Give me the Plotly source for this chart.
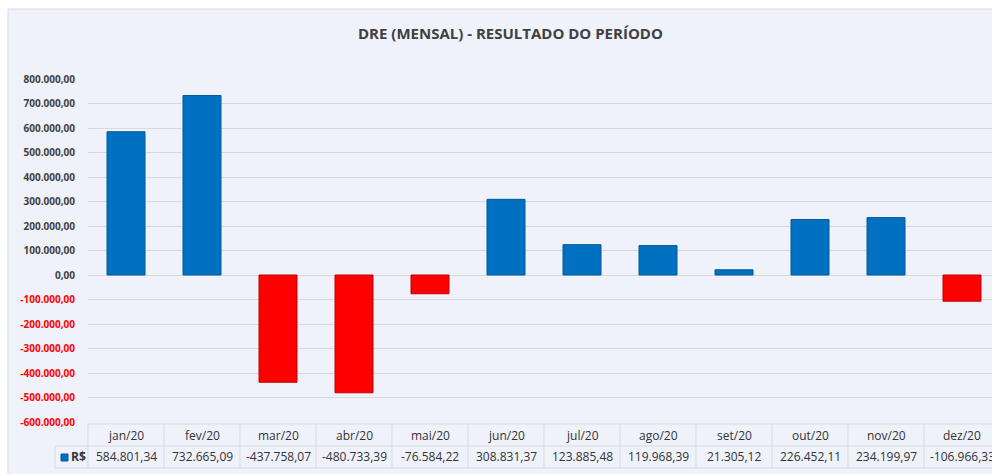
import plotly.graph_objects as go

months = ["jan/20", "fev/20", "mar/20", "abr/20", "mai/20", "jun/20",
          "jul/20", "ago/20", "set/20", "out/20", "nov/20", "dez/20"]
values = [584801.34, 732665.09, -437758.07, -480733.39, -76584.22, 308831.37,
          123885.48, 119968.39, 21305.12, 226452.11, 234199.97, -106966.33]
tick_values = [800000, 700000, 600000, 500000, 400000, 300000, 200000, 100000,
               0, -100000, -200000, -300000, -400000, -500000, -600000]
title_text = "DRE (MENSAL) - RESULTADO DO PERÍODO"
series_name = "R$"


def br(v):
    s = f"{v:,.2f}"
    return s.replace(",", "X").replace(".", ",").replace("X", ".")


W, Hfig = 992, 474
L, R = 88, 0
T, B = 79, 422
PH = B - T
PW = W - L - R
CAT = 76.0


def py(p):
    return (B - p) / PH


def pxp(p):
    return (p - L) / PW


idx = list(range(len(months)))
colors = ["#0070C0" if v >= 0 else "#FF0000" for v in values]
lines = ["#005A9A" if v >= 0 else "#C00000" for v in values]

fig = go.Figure()
fig.add_trace(go.Bar(
    x=idx, y=values, width=0.5,
    marker=dict(color=colors, line=dict(color=lines, width=1)),
    name=series_name, showlegend=False, hoverinfo="skip",
))

ticktext = []
for t in tick_values:
    s = br(t)
    if t < 0:
        s = f"<span style='color:#FF0000'>{s}</span>"
    ticktext.append(s)

shapes = []
# chart background + border
shapes.append(dict(type="rect", xref="paper", yref="paper",
                   x0=pxp(8), x1=pxp(W + 5), y0=py(Hfig + 5), y1=py(9),
                   fillcolor="#EFF2FA", line=dict(color="#D9D9D9", width=1),
                   layer="below"))

gridc = "#D9D9D9"
right_edge = pxp(W + 10)
# table horizontal lines
shapes.append(dict(type="line", xref="paper", yref="paper",
                   x0=pxp(88), x1=right_edge, y0=py(424), y1=py(424),
                   line=dict(color=gridc, width=1)))
for yy in (446, 468):
    shapes.append(dict(type="line", xref="paper", yref="paper",
                       x0=pxp(55), x1=right_edge, y0=py(yy), y1=py(yy),
                       line=dict(color=gridc, width=1)))
# table vertical lines
shapes.append(dict(type="line", xref="paper", yref="paper",
                   x0=pxp(55), x1=pxp(55), y0=py(446), y1=py(468),
                   line=dict(color=gridc, width=1)))
for i in idx:
    xb = pxp(L + (i) * CAT)
    shapes.append(dict(type="line", xref="paper", yref="paper",
                       x0=xb, x1=xb, y0=py(424), y1=py(468),
                       line=dict(color=gridc, width=1)))
# legend key
shapes.append(dict(type="rect", xref="paper", yref="paper",
                   x0=pxp(61), x1=pxp(68), y0=py(461), y1=py(454),
                   fillcolor="#0070C0", line=dict(color="#005A9A", width=1)))

tfont = dict(family="Open Sans", size=12, color="#333333")
annotations = []
annotations.append(dict(text=f"<b>{title_text}</b>", xref="paper", yref="paper",
                        x=pxp(510), y=py(33), xanchor="center", yanchor="middle",
                        showarrow=False,
                        font=dict(family="Open Sans", size=15, color="#404040")))
for i, m in enumerate(months):
    annotations.append(dict(text=m, xref="x", yref="paper", x=i, y=py(435),
                            xanchor="center", yanchor="middle",
                            showarrow=False, font=tfont))
    annotations.append(dict(text=br(values[i]), xref="x", yref="paper", x=i, y=py(457),
                            xanchor="center", yanchor="middle",
                            showarrow=False, font=tfont))
annotations.append(dict(text=f"<b>{series_name}</b>", xref="paper", yref="paper",
                        x=pxp(69), y=py(457), xanchor="left", yanchor="middle",
                        showarrow=False, font=tfont))

fig.update_layout(
    width=W, height=Hfig,
    margin=dict(l=L, r=R, t=T, b=Hfig - B, pad=0),
    paper_bgcolor="white", plot_bgcolor="rgba(0,0,0,0)",
    shapes=shapes, annotations=annotations,
    bargap=0.5,
    xaxis=dict(range=[-0.5, -0.5 + PW / CAT], showticklabels=False,
               showgrid=False, zeroline=False, showline=False, fixedrange=True),
    yaxis=dict(range=[-600000, 800000], tickvals=tick_values, ticktext=ticktext,
               showgrid=True, gridcolor=gridc, gridwidth=1,
               zeroline=True, zerolinecolor=gridc, zerolinewidth=1,
               ticks="", ticklabelstandoff=12, fixedrange=True,
               tickfont=dict(family="Open Sans", size=10, color="#404040", weight="bold")),
)

fig.write_html("out.html", config={"displayModeBar": False},
               post_script="document.body.style.margin='0';document.body.style.overflow='hidden';")
